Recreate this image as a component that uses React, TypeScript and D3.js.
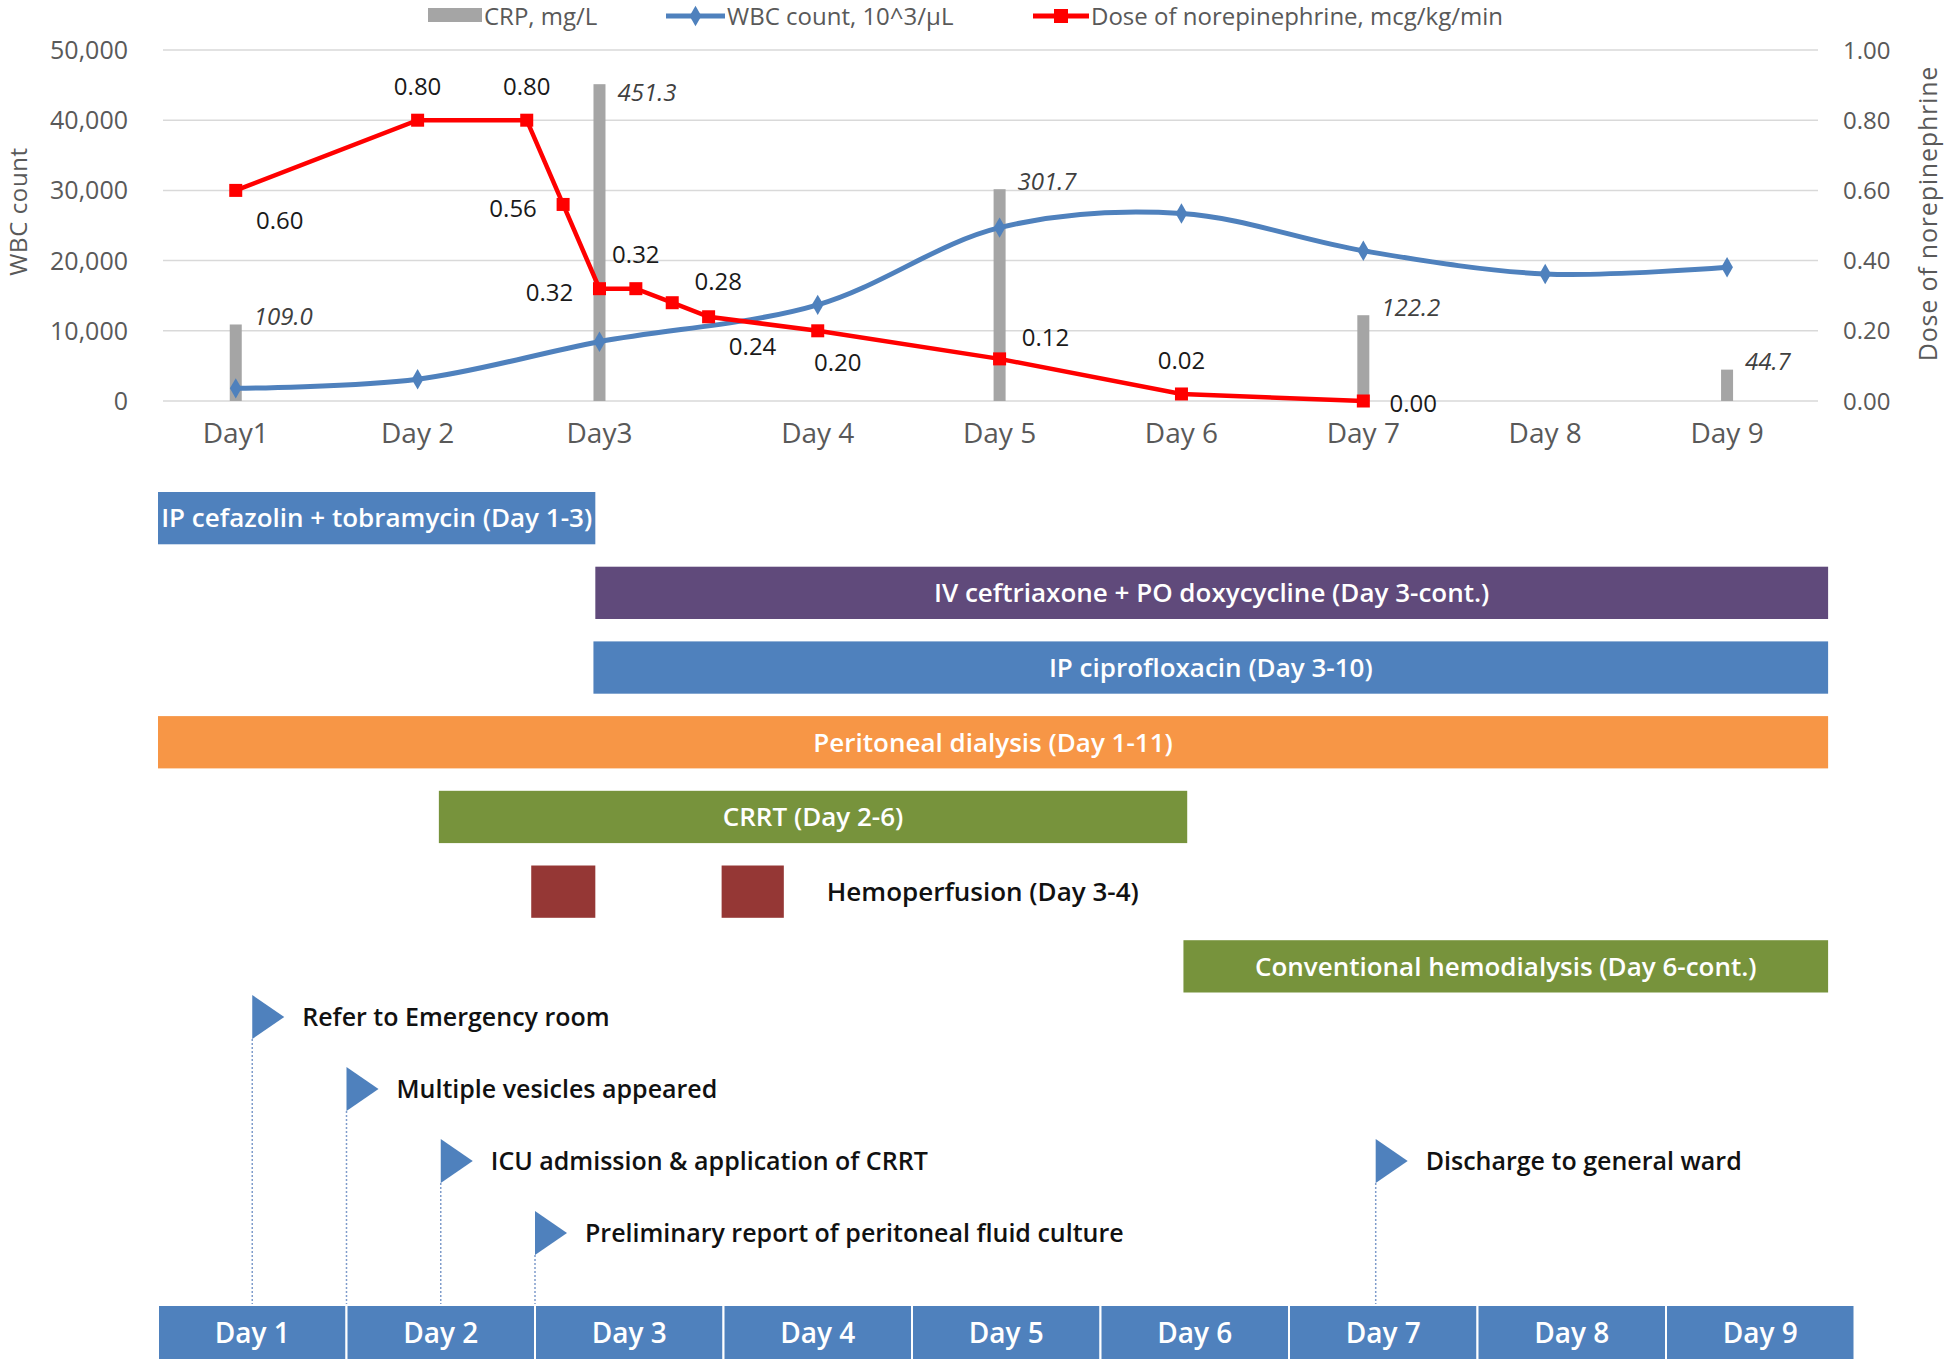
import React from "react";
import * as d3 from "d3";

// ---------- top chart data ----------
const SLOT_MAX = 45.5; // category slots on the chart's x axis
const axisDayLabels = ["Day1", "Day 2", "Day3", "Day 4", "Day 5", "Day 6", "Day 7", "Day 8", "Day 9"];
const axisDaySlots = [2, 7, 12, 18, 23, 28, 33, 38, 43];

const wbcSlots = [2, 7, 12, 18, 23, 28, 33, 38, 43];
const wbcValues = [1800, 3100, 8450, 13700, 24700, 26700, 21400, 18100, 19050];

const crpSlots = [2, 12, 23, 33, 43];
const crpValues = [109.0, 451.3, 301.7, 122.2, 44.7];

const noreSlots = [2, 7, 10, 11, 12, 13, 14, 15, 18, 23, 28, 33];
const noreValues = [0.6, 0.8, 0.8, 0.56, 0.32, 0.32, 0.28, 0.24, 0.2, 0.12, 0.02, 0.0];
const noreLabelPlace = ["belowRight", "above", "above", "left", "left", "above", "aboveRight", "belowRight", "below", "aboveRight", "above", "right"];

const wbcTicks = [0, 10000, 20000, 30000, 40000, 50000];
const noreTicks = [0, 0.2, 0.4, 0.6, 0.8, 1.0];

const legendLabels = ["CRP, mg/L", "WBC count, 10^3/\u00b5L", "Dose of norepinephrine, mcg/kg/min"];

// ---------- treatment timeline data ----------
const ganttLabels = [
  "IP cefazolin + tobramycin (Day 1-3)",
  "IV ceftriaxone + PO doxycycline  (Day 3-cont.)",
  "IP ciprofloxacin  (Day 3-10)",
  "Peritoneal dialysis (Day 1-11)",
  "CRRT (Day 2-6)",
  "Hemoperfusion (Day 3-4)",
  "Conventional  hemodialysis (Day 6-cont.)",
];
// segments (row, start day, end day) on the bottom timeline
const segRow = [0, 1, 2, 3, 4, 5, 5, 6];
const segStart = [0.5, 2.82, 2.81, 0.5, 1.99, 2.48, 3.49, 5.94];
const segEnd = [2.82, 9.36, 9.36, 9.36, 5.96, 2.82, 3.82, 9.36];

const eventLabels = [
  "Refer to Emergency room",
  "Multiple vesicles appeared",
  "ICU admission & application of CRRT",
  "Preliminary report of peritoneal fluid culture",
  "Discharge to general ward",
];
const eventDays = [1.0, 1.5, 2.0, 2.5, 6.96];
const eventLevels = [0, 1, 2, 3, 2];

const timelineDays = [1, 2, 3, 4, 5, 6, 7, 8, 9];

// ---------- styles ----------
const FONT = "'Open Sans', 'Noto Sans', sans-serif";
const GRAY_TEXT = "#595959";
const rowColors = ["#4F81BD", "#604A7B", "#4F81BD", "#F79646", "#77933C", "#953735", "#77933C"];
const rowTextInside = [true, true, true, true, true, false, true];
const placeOffset: Record<string, [number, number]> = {
  above: [0, -34],
  left: [-50, 4],
  right: [50, 2],
  aboveRight: [46, -21],
  belowRight: [44, 30],
  below: [20, 32],
};

export default function App() {
  const plotTop = 50;
  const plotBottom = 401;
  const x = d3.scaleLinear().domain([0, SLOT_MAX]).range([163, 1818]);
  const yL = d3.scaleLinear().domain([0, 50000]).range([plotBottom, plotTop]);
  const yR = d3.scaleLinear().domain([0, 1]).range([plotBottom, plotTop]);
  const yC = d3.scaleLinear().domain([0, 500]).range([plotBottom, plotTop]);

  const fmtL = d3.format(",");
  const fmt2 = d3.format(".2f");
  const fmt1 = d3.format(".1f");

  const wbcLine = d3
    .line<number>()
    .x((_, i) => x(wbcSlots[i]))
    .y((d) => yL(d))
    .curve(d3.curveCatmullRom.alpha(0.5))(wbcValues) as string;

  const noreLine = d3
    .line<number>()
    .x((_, i) => x(noreSlots[i]))
    .y((d) => yR(d))(noreValues) as string;

  const diamond = d3.symbol().type(d3.symbolDiamond).size(120)() as string;

  // bottom timeline
  const t = d3.scaleLinear().domain([0.5, 9.5]).range([158, 1854.5]);
  const rows = d3
    .scaleBand<number>()
    .domain(d3.range(ganttLabels.length))
    .range([492, 992.5])
    .paddingInner(0.3)
    .paddingOuter(0);
  const levelY = d3.scaleLinear().domain([0, 3]).range([1017, 1233]);
  const dayBarTop = 1305;
  const dayBarH = 55;
  const flagH = 22;
  const flagW = 32;

  return (
    <svg
      width={1946}
      height={1363}
      style={{ position: "absolute", left: 0, top: 0, background: "#fff" }}
      fontFamily={FONT}
    >
      <rect x={0} y={0} width={1946} height={1363} fill="#fff" />

      {/* legend */}
      <g fill={GRAY_TEXT} fontSize={24}>
        <rect x={428} y={8} width={54} height={14} fill="#A5A5A5" />
        <text x={484} y={25}>{legendLabels[0]}</text>
        <line x1={666} x2={725} y1={16} y2={16} stroke="#4F81BD" strokeWidth={5} />
        <path d={diamond} transform="translate(695.5,16)" fill="#4F81BD" />
        <text x={727} y={25}>{legendLabels[1]}</text>
        <line x1={1033} x2={1089} y1={16} y2={16} stroke="#FF0000" strokeWidth={5} />
        <rect x={1054} y={9} width={14} height={14} fill="#FF0000" />
        <text x={1091} y={25}>{legendLabels[2]}</text>
      </g>

      {/* gridlines */}
      {wbcTicks.map((v) => (
        <line key={v} x1={163} x2={1818} y1={yL(v)} y2={yL(v)} stroke="#D9D9D9" strokeWidth={1.5} />
      ))}

      {/* left axis */}
      <g fill={GRAY_TEXT} fontSize={25} textAnchor="end">
        {wbcTicks.map((v) => (
          <text key={v} x={128} y={yL(v) + 9}>{fmtL(v)}</text>
        ))}
      </g>
      <text
        transform={`translate(27,${(plotTop + plotBottom) / 2 - 14}) rotate(-90)`}
        textAnchor="middle"
        fontSize={24}
        fill={GRAY_TEXT}
        letterSpacing={0.6}
      >
        WBC count
      </text>

      {/* right axis */}
      <g fill={GRAY_TEXT} fontSize={24} textAnchor="start">
        {noreTicks.map((v) => (
          <text key={v} x={1843} y={yR(v) + 8.5}>{fmt2(v)}</text>
        ))}
      </g>
      <text
        transform={`translate(1937,${(plotTop + plotBottom) / 2 - 12}) rotate(-90)`}
        textAnchor="middle"
        fontSize={25}
        fill={GRAY_TEXT}
        letterSpacing={0.8}
      >
        Dose of norepinephrine
      </text>

      {/* x axis labels */}
      <g fill={GRAY_TEXT} fontSize={28} textAnchor="middle">
        {axisDayLabels.map((l, i) => (
          <text key={l} x={x(axisDaySlots[i])} y={443}>{l}</text>
        ))}
      </g>

      {/* CRP bars */}
      {crpValues.map((v, i) => (
        <rect key={i} x={x(crpSlots[i]) - 6} y={yC(v)} width={12} height={plotBottom - yC(v)} fill="#A5A5A5" />
      ))}
      <g fontSize={24} fontStyle="italic" fill="#404040">
        {crpValues.map((v, i) => (
          <text key={i} x={x(crpSlots[i]) + 18} y={Math.max(yC(v) - 8, plotTop + 42) + 8.6}>{fmt1(v)}</text>
        ))}
      </g>

      {/* WBC line */}
      <path d={wbcLine} fill="none" stroke="#4F81BD" strokeWidth={5} />
      {wbcValues.map((v, i) => (
        <path key={i} d={diamond} transform={`translate(${x(wbcSlots[i])},${yL(v)})`} fill="#4F81BD" />
      ))}

      {/* norepinephrine line */}
      <path d={noreLine} fill="none" stroke="#FF0000" strokeWidth={4.5} />
      {noreValues.map((v, i) => (
        <rect key={i} x={x(noreSlots[i]) - 6.5} y={yR(v) - 6.5} width={13} height={13} fill="#FF0000" />
      ))}
      <g fontSize={24} fill="#1a1a1a" textAnchor="middle">
        {noreValues.map((v, i) => {
          const [dx, dy] = placeOffset[noreLabelPlace[i]];
          return (
            <text key={i} x={x(noreSlots[i]) + dx} y={yR(v) + dy + 8.6}>{fmt2(v)}</text>
          );
        })}
      </g>

      {/* treatment bars */}
      {segRow.map((r, i) => (
        <rect
          key={i}
          x={t(segStart[i])}
          y={rows(r)!}
          width={t(segEnd[i]) - t(segStart[i])}
          height={rows.bandwidth()}
          fill={rowColors[r]}
        />
      ))}
      <g fontSize={26} fontWeight={600} style={{ whiteSpace: "pre" }}>
        {ganttLabels.map((l, r) => {
          const idx = segRow.map((rr, j) => (rr === r ? j : -1)).filter((j) => j >= 0);
          const s = d3.min(idx, (j) => segStart[j])!;
          const e = d3.max(idx, (j) => segEnd[j])!;
          const cy = rows(r)! + rows.bandwidth() / 2 + 9.3;
          return rowTextInside[r] ? (
            <text key={r} x={(t(s) + t(e)) / 2} y={cy} textAnchor="middle" fill="#fff">{l}</text>
          ) : (
            <text key={r} x={t(e) + 43} y={cy} textAnchor="start" fill="#111">{l}</text>
          );
        })}
      </g>

      {/* events */}
      {eventLabels.map((l, i) => {
        const px = t(eventDays[i]);
        const ty = levelY(eventLevels[i]);
        return (
          <g key={l}>
            <line x1={px} x2={px} y1={ty + flagH} y2={dayBarTop} stroke="#7F9CCB" strokeWidth={1.5} strokeDasharray="2 2" />
            <path d={`M${px},${ty - flagH}L${px + flagW},${ty}L${px},${ty + flagH}Z`} fill="#4F81BD" />
            <text x={px + 50} y={ty + 9} fontSize={25} fontWeight={600} fill="#111">{l}</text>
          </g>
        );
      })}

      {/* day bar */}
      {timelineDays.map((d) => (
        <g key={d}>
          <rect x={t(d - 0.5)} y={dayBarTop} width={t(d + 0.5) - t(d - 0.5)} height={dayBarH} fill="#4F81BD" stroke="#fff" strokeWidth={2} />
          <text x={t(d)} y={dayBarTop + dayBarH / 2 + 10} textAnchor="middle" fontSize={28} fontWeight={600} fill="#fff">{`Day ${d}`}</text>
        </g>
      ))}
    </svg>
  );
}
